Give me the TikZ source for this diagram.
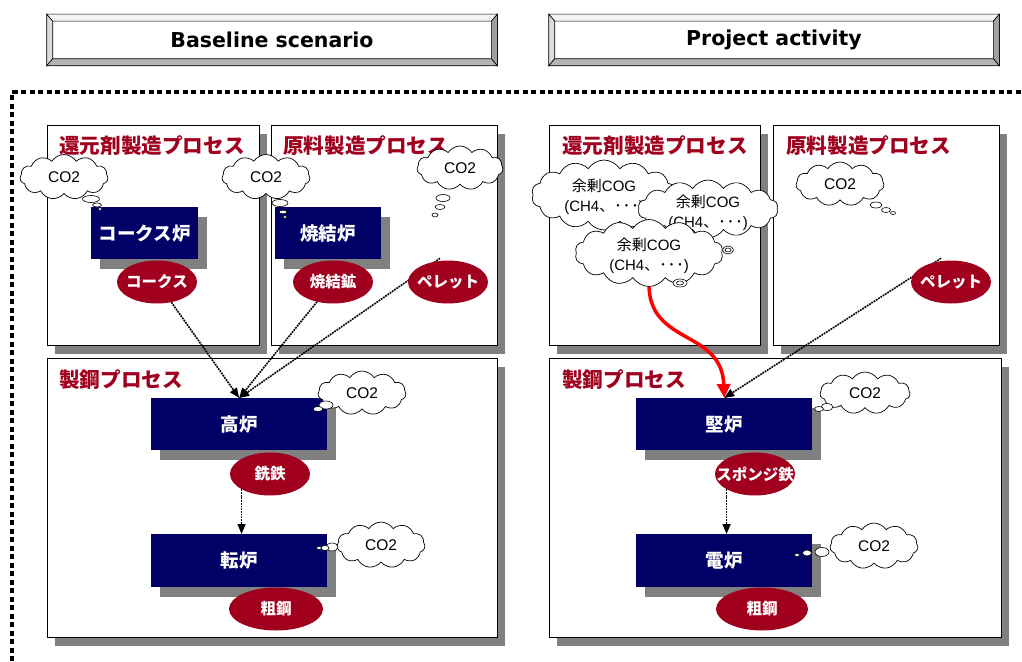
\documentclass[tikz,border=0pt]{standalone}
\usepackage{fontspec}
\setmainfont{Liberation Sans}
\newfontfamily\jp{Noto Sans CJK JP}
\newfontfamily\hdrfont{DejaVu Sans}
\usetikzlibrary{shapes.geometric,shapes.symbols,shadows,arrows.meta,calc}

\definecolor{navy}{HTML}{000066}
\definecolor{crimson}{HTML}{A0001E}
\definecolor{shade}{HTML}{808080}
\definecolor{bevtop}{HTML}{F6F6F6}
\definecolor{bevleft}{HTML}{DCDCDC}
\definecolor{bevdark}{HTML}{A0A0A0}
\definecolor{bevbot}{HTML}{B4B4B4}

\pgfdeclarelayer{back}
\pgfdeclarelayer{links}
\pgfsetlayers{back,links,main}

% zero-width text so that the ellipse keeps its own size
\newcommand{\zw}[1]{\makebox[0pt]{#1}}

% bevelled frame round a header node
\newcommand{\bevel}[1]{%
  \draw[line width=0.6pt, fill=bevtop] (#1.north west) -- (#1.north east) -- ($(#1.north east)+(-6,7)$) -- ($(#1.north west)+(6,7)$) -- cycle;
  \draw[line width=0.6pt, fill=bevleft] (#1.north west) -- ($(#1.north west)+(6,7)$) -- ($(#1.south west)+(6,-7)$) -- (#1.south west) -- cycle;
  \draw[line width=0.6pt, fill=bevdark] (#1.north east) -- (#1.south east) -- ($(#1.south east)+(-6,-7)$) -- ($(#1.north east)+(-6,7)$) -- cycle;
  \draw[line width=0.6pt, fill=bevbot] (#1.south west) -- (#1.south east) -- ($(#1.south east)+(-6,-7)$) -- ($(#1.south west)+(6,-7)$) -- cycle;
}

% gas composition line inside the COG clouds
\newcommand{\cogline}{{\jp 余剰}COG\\(CH4{\jp 、}{\jp ･}\kern1pt{\jp ･}\kern1pt{\jp ･})}

\begin{document}
\begin{tikzpicture}[x=1pt, y=-1pt,
  header/.style={rectangle, draw, line width=0.6pt, fill=white, minimum width=450pt, minimum height=51pt,
    font=\hdrfont\bfseries\fontsize{20.5}{24}\selectfont},
  frame/.style={line width=4.2pt, dash pattern=on 5pt off 3.5pt},
  panel/.style={rectangle, draw, line width=0.8pt, fill=white, anchor=north west, inner sep=0,
    drop shadow={shadow xshift=8pt, shadow yshift=-9pt, opacity=1, fill=shade}},
  title/.style={anchor=west, inner sep=0, text=crimson, font=\jp\bfseries\fontsize{20.6}{22}\selectfont},
  furnace/.style={rectangle, fill=navy, text=white, anchor=north west, inner sep=0,
    font=\jp\bfseries\fontsize{18.5}{20}\selectfont,
    drop shadow={shadow xshift=9pt, shadow yshift=-10pt, opacity=1, fill=shade}},
  product/.style={ellipse, fill=crimson, text=white, inner sep=0, minimum width=80pt, minimum height=43pt,
    font=\jp\bfseries\fontsize{15.5}{17}\selectfont},
  puff/.style={cloud, cloud puffs=11, cloud puff arc=115, cloud ignores aspect, draw, fill=white,
    line width=0.7pt, inner sep=0},
  puffbig/.style={puff, cloud puffs=14},
  cotext/.style={inner sep=0, font=\fontsize{15.5}{17}\selectfont},
  cogtext/.style={inner sep=0, align=center, font=\fontsize{15}{20}\selectfont},
  bub/.style={draw, fill=white, line width=0.6pt},
  link/.style={line width=1.6pt, dash pattern=on 1.8pt off 0.9pt, -{Triangle[length=10pt, width=8pt]}},
  redlink/.style={draw=red, line width=3.5pt, -{Triangle[length=14pt, width=13pt]}},
]
\useasboundingbox (0,0) rectangle (1022,661);

% ---- headers
\node[header] (hbase) at (272,40) {\raisebox{-2.5pt}{Baseline scenario}};
\bevel{hbase}
\node[header] (hproj) at (774,40) {\raisebox{-2.5pt}{Project activity}};
\bevel{hproj}

% ---- dotted enclosure
\draw[frame] (12,661) -- (12,92) -- (1022,92);

% ---- process panels
\begin{pgfonlayer}{back}
  \node[panel, minimum width=212pt, minimum height=220pt] (pl1) at (47,125) {};
  \node[panel, minimum width=226pt, minimum height=220pt] (pl2) at (271,125) {};
  \node[panel, minimum width=450pt, minimum height=279pt] (pl3) at (47,358) {};
  \node[panel, minimum width=211pt, minimum height=220pt] (pr1) at (549,125) {};
  \node[panel, minimum width=226pt, minimum height=220pt] (pr2) at (773,125) {};
  \node[panel, minimum width=452pt, minimum height=279pt] (pr3) at (549,358) {};
\end{pgfonlayer}

\node[title] (tl1) at (59,146) {還元剤製造プロセス};
\node[title] (tl2) at (283,146) {原料製造プロセス};
\node[title] (tl3) at (59,380) {製鋼プロセス};
\node[title] (tr1) at (562,146) {還元剤製造プロセス};
\node[title] (tr2) at (786,146) {原料製造プロセス};
\node[title] (tr3) at (562,380) {製鋼プロセス};

% ---- furnaces
\node[furnace, minimum width=107pt, minimum height=52pt] (coke) at (91,207) {コークス炉};
\node[furnace, minimum width=106pt, minimum height=52pt] (sint) at (275,207) {焼結炉};
\node[furnace, minimum width=176pt, minimum height=52pt] (bf) at (151,398) {高炉};
\node[furnace, minimum width=176pt, minimum height=53pt] (bof) at (151,534) {転炉};
\node[furnace, minimum width=176pt, minimum height=52pt] (shaft) at (636,398) {堅炉};
\node[furnace, minimum width=176pt, minimum height=53pt] (eaf) at (636,534) {電炉};

% ---- products
\node[product] (pcoke) at (157,282) {\zw{コークス}};
\node[product] (psint) at (333,282) {\zw{焼結鉱}};
\node[product] (ppelL) at (448,282) {\zw{ペレット}};
\node[product] (ppig) at (270,474) {\zw{銑鉄}};
\node[product, minimum width=94pt] (psteelL) at (276,609) {\zw{粗鋼}};
\node[product] (ppelR) at (951,282) {\zw{ペレット}};
\node[product] (psponge) at (755,474) {\zw{スポンジ鉄}};
\node[product, minimum width=92pt] (psteelR) at (762,609) {\zw{粗鋼}};

% ---- CO2 clouds with their trails
\node[puff, minimum width=88pt, minimum height=45pt] (c1) at (64,177) {};
\node[cotext] (c1t) at (c1) {CO2};
\draw[bub] (91,199) ellipse [x radius=8.5, y radius=3.5];
\draw[bub] (97,205) ellipse [x radius=4.5, y radius=2];
\draw[bub] (100,209) ellipse [x radius=2, y radius=1.2];

\node[puff, minimum width=88pt, minimum height=45pt] (c2) at (266,177) {};
\node[cotext] (c2t) at (c2) {CO2};
\draw[bub] (280,203) ellipse [x radius=8, y radius=3.5];
\draw[bub] (283,212) ellipse [x radius=4, y radius=1.8];
\draw[bub] (285,217) ellipse [x radius=2, y radius=1.2];

\node[puff, minimum width=86pt, minimum height=44pt] (c3) at (460,168) {};
\node[cotext] (c3t) at (c3) {CO2};
\draw[bub] (443,198) ellipse [x radius=7, y radius=3.5];
\draw[bub] (440,207) ellipse [x radius=5, y radius=2.5];
\draw[bub] (435,215) ellipse [x radius=3, y radius=2];

\node[puff, minimum width=88pt, minimum height=44pt] (c4) at (362,393) {};
\node[cotext] (c4t) at (c4) {CO2};
\draw[bub] (326,405) ellipse [x radius=7, y radius=4];
\draw[bub] (318,409) ellipse [x radius=5, y radius=2.5];

\node[puff, minimum width=88pt, minimum height=46pt] (c5) at (381,545) {};
\node[cotext] (c5t) at (c5) {CO2};
\draw[bub] (332,547) ellipse [x radius=6, y radius=4];
\draw[bub] (325,548) ellipse [x radius=4, y radius=2.5];
\draw[bub] (319,548) ellipse [x radius=2.5, y radius=1.5];

\node[puff, minimum width=88pt, minimum height=44pt] (c6) at (840,184) {};
\node[cotext] (c6t) at (c6) {CO2};
\draw[bub] (876,205) ellipse [x radius=6, y radius=3];
\draw[bub] (886,210) ellipse [x radius=4.5, y radius=2.5];
\draw[bub] (893,213) ellipse [x radius=2.5, y radius=1.5];

\node[puff, minimum width=90pt, minimum height=42pt] (c7) at (865,393) {};
\node[cotext] (c7t) at (c7) {CO2};
\draw[bub] (827,407) ellipse [x radius=6, y radius=3.5];
\draw[bub] (819,409) ellipse [x radius=4.5, y radius=2.5];

\node[puff, minimum width=88pt, minimum height=46pt] (c8) at (874,546) {};
\node[cotext] (c8t) at (c8) {CO2};
\draw[bub] (822,552) ellipse [x radius=7, y radius=4.5];
\draw[bub] (807,553) ellipse [x radius=4.5, y radius=3];
\draw[bub] (797,555) ellipse [x radius=2.5, y radius=1.5];

% ---- surplus coke oven gas clouds
\node[puffbig, minimum width=145pt, minimum height=70pt] (cog1) at (604,195) {};
\node[cogtext] (cog1t) at (604,197) {\cogline};
\node[puffbig, minimum width=140pt, minimum height=58pt] (cog2) at (708,209) {};
\node[cogtext] (cog2t) at (708,213) {\cogline};
\draw[bub] (728,250) ellipse [x radius=5.5, y radius=4];
\draw[bub] (728,250) ellipse [x radius=3, y radius=2];
\node[puffbig, minimum width=148pt, minimum height=67pt] (cog3) at (649,253) {};
\node[cogtext] (cog3t) at (649,256) {\cogline};
\draw[bub] (680,283) ellipse [x radius=7, y radius=4];
\draw[bub] (680,283) ellipse [x radius=3.5, y radius=2];

% ---- material flows
\begin{pgfonlayer}{links}
  \draw[link] (pcoke) -- (bf.north);
  \draw[link] (psint) -- (bf.north);
  \draw[link] ($(ppelL.north)+(-8,-2)$) -- (bf.north);
  \draw[link] (ppig.south west) -- (ppig.south west |- bof.north);
  \draw[link] ($(ppelR.north)+(-10,-2)$) -- (shaft.north);
  \draw[link] (psponge.south west) -- (psponge.south west |- eaf.north);
  \draw[redlink] (cog3.south) .. controls (651,345) and (722,330) .. (shaft.north);
\end{pgfonlayer}
\end{tikzpicture}
\end{document}
